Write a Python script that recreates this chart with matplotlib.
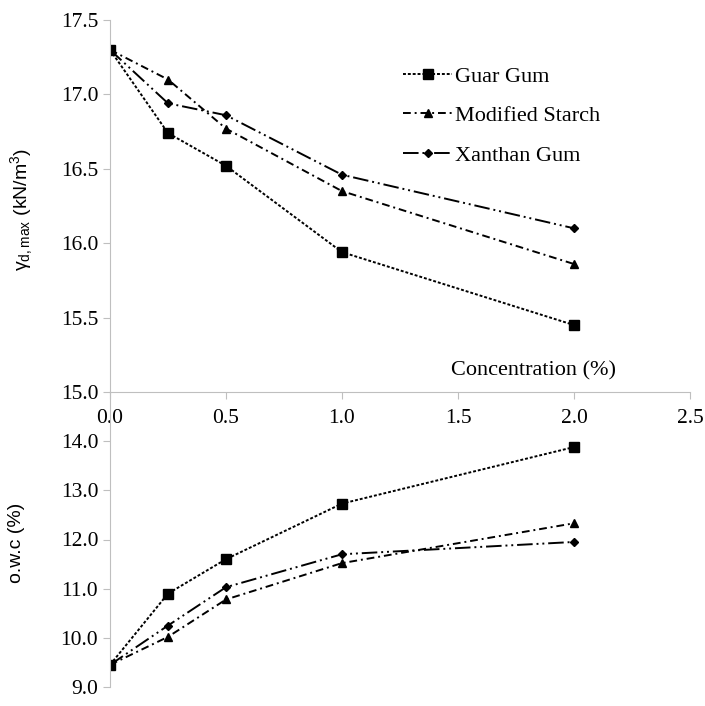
import matplotlib
matplotlib.use("Agg")
import matplotlib.pyplot as plt

conc = [0.0, 0.25, 0.5, 1.0, 2.0]

# maximum dry unit weight (kN/m3)
gd_guar = [17.30, 16.74, 16.52, 15.94, 15.45]
gd_starch = [17.30, 17.10, 16.77, 16.35, 15.86]
gd_xanthan = [17.30, 16.94, 16.86, 16.46, 16.10]

# optimum water content (%)
owc_guar = [9.45, 10.90, 11.60, 12.73, 13.88]
owc_starch = [9.45, 10.02, 10.78, 11.52, 12.33]
owc_xanthan = [9.45, 10.25, 11.03, 11.70, 11.95]

top_ticks = [15.0, 15.5, 16.0, 16.5, 17.0, 17.5]
bot_ticks = [9.0, 10.0, 11.0, 12.0, 13.0, 14.0]
x_ticks = [0.0, 0.5, 1.0, 1.5, 2.0, 2.5]

serif = "Liberation Serif"
sans = "Liberation Sans"
grey = "#bfbfbf"
fs = 15.5

styles = [
    ("Guar Gum", (0, (1.5, 1.0)), "s", 7.5),
    ("Modified Starch", (0, (4, 2, 1, 2)), "^", 6),
    ("Xanthan Gum", (0, (8, 2, 1, 2, 1, 2)), "D", 4.5),
]

fig = plt.figure(figsize=(7.05, 7.06), dpi=100)
W, H = 705.0, 706.0
ax1 = fig.add_axes([110 / W, (H - 392) / H, 580 / W, 372 / H])
ax2 = fig.add_axes([110 / W, (H - 687) / H, 580 / W, 295 / H])

for ax in (ax1, ax2):
    ax.set_xlim(0, 2.5)
    ax.patch.set_alpha(0)
    for s in ("top", "right"):
        ax.spines[s].set_visible(False)
    ax.spines["left"].set_color(grey)
    ax.spines["bottom"].set_color(grey)
    ax.tick_params(colors=grey, direction="out", length=5, labelcolor="black")

top_data = [gd_guar, gd_starch, gd_xanthan]
bot_data = [owc_guar, owc_starch, owc_xanthan]
for (name, ls, mk, ms), yt, yb in zip(styles, top_data, bot_data):
    ax1.plot(conc, yt, color="black", linestyle=ls, marker=mk, markersize=ms,
             linewidth=1.4, label=name)
    ax2.plot(conc, yb, color="black", linestyle=ls, marker=mk, markersize=ms,
             linewidth=1.4)

ax1.set_ylim(15.0, 17.5)
ax1.set_yticks(top_ticks)
ax1.set_yticklabels(["%.1f" % v for v in top_ticks], fontfamily=serif, fontsize=fs)
ax1.set_xticks(x_ticks)
ax1.set_xticklabels(["%.1f" % v for v in x_ticks], fontfamily=serif, fontsize=fs)
ax1.tick_params(axis="x", pad=7)
ax1.set_ylabel(r"$\mathregular{\gamma_{d,max}}$ (kN/m$\mathregular{^3}$)",
               fontfamily=sans, fontsize=14)
ax1.yaxis.set_label_coords(-0.13, 0.49)
ax1.text(0.73, 0.057, "Concentration (%)", transform=ax1.transAxes,
         ha="center", va="center", fontfamily=serif, fontsize=16)
ax1.legend(loc="upper left", bbox_to_anchor=(0.49, 0.90), frameon=False,
           prop={"family": serif, "size": 16}, handlelength=2.2,
           handletextpad=0.15, labelspacing=0.85, borderaxespad=0)

ax2.set_ylim(9.0, 15.0)
ax2.set_yticks(bot_ticks)
ax2.set_yticklabels(["%.1f" % v for v in bot_ticks], fontfamily=serif, fontsize=fs)
ax2.spines["bottom"].set_visible(False)
ax2.set_xticks([])
ax2.set_ylabel("o.w.c (%)", fontfamily=sans, fontsize=14)
ax2.yaxis.set_label_coords(-0.147, 0.49)

fig.savefig("out.png", dpi=100)
